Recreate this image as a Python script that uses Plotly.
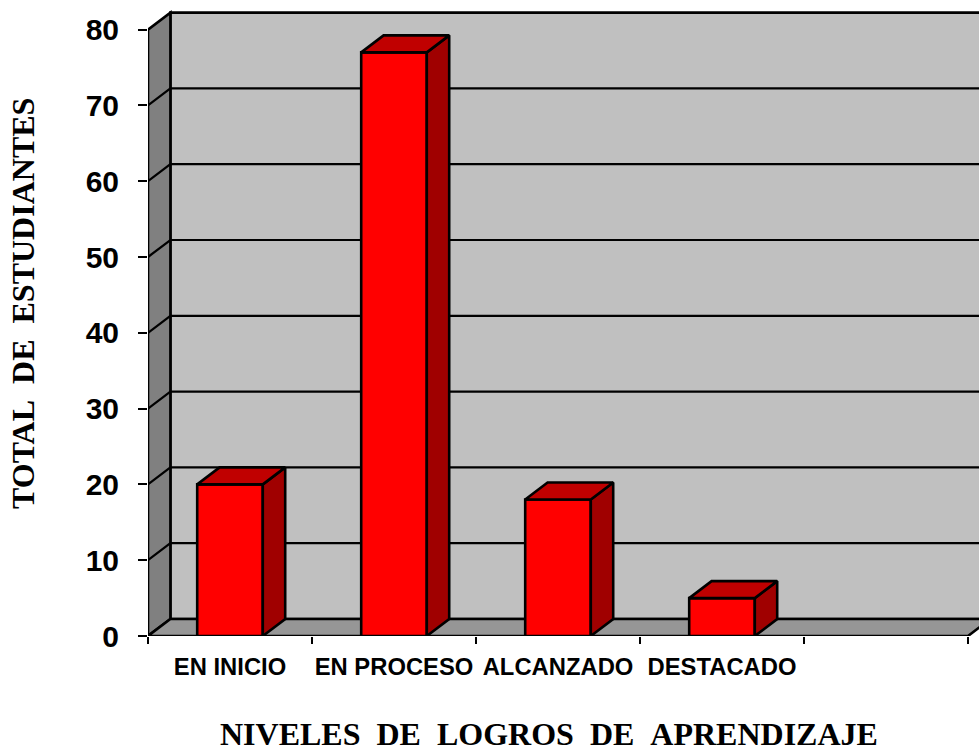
import plotly.graph_objects as go

categories = ["EN INICIO", "EN PROCESO", "ALCANZADO", "DESTACADO", ""]
values = [20, 77, 18, 5]
y_ticks = [0, 10, 20, 30, 40, 50, 60, 70, 80]
y_title = "TOTAL\u00a0\u00a0DE\u00a0\u00a0ESTUDIANTES"
x_title = "NIVELES\u00a0\u00a0DE\u00a0\u00a0LOGROS\u00a0\u00a0DE\u00a0\u00a0APRENDIZAJE"

# pixel frame of the chart
W, H = 979, 751
L, B, T = 148.0, 115, 8
SLOT_PX = 164.0
UNIT_PX = 7.58
n_slots = len(categories)
x_max = (W - L) / SLOT_PX
y_max = (H - B - T) / UNIT_PX
DX = 22.4 / SLOT_PX
DY = 17.0 / UNIT_PX
BAR_W = 0.4
LW = 2.6

fig = go.Figure()


def poly(xs, ys, fill, width=LW):
    path = "M" + " L".join(f"{x},{y}" for x, y in zip(xs, ys)) + " Z"
    fig.add_shape(type="path", path=path, xref="x", yref="y", layer="below",
                  fillcolor=fill, line=dict(color="black", width=width))


top = y_ticks[-1]
poly([DX, n_slots + DX + 1, n_slots + DX + 1, DX], [DY, DY, top + DY, top + DY], "#c0c0c0")
poly([0, DX, DX, 0], [0, DY, top + DY, top], "#808080")
poly([0, n_slots, n_slots + DX, DX], [0, 0, DY, DY], "#969696")
for v in y_ticks[1:-1]:
    fig.add_shape(type="path", path=f"M0,{v} L{DX},{v + DY} L{n_slots + DX + 1},{v + DY}",
                  xref="x", yref="y", layer="below", line=dict(color="black", width=2.2))

centers = [i + 0.5 for i in range(len(values))]
fig.add_trace(go.Bar(x=centers, y=values, width=BAR_W,
                     marker=dict(color="#ff0000", line=dict(color="black", width=LW))))

for c, v in zip(centers, values):
    l, r = c - BAR_W / 2, c + BAR_W / 2
    fig.add_trace(go.Scatter(x=[r, r + DX, r + DX, r, r], y=[0, DY, v + DY, v, 0],
                             mode="lines", fill="toself", fillcolor="#a00000",
                             line=dict(color="black", width=LW)))
    fig.add_trace(go.Scatter(x=[l, r, r + DX, l + DX, l], y=[v, v, v + DY, v + DY, v],
                             mode="lines", fill="toself", fillcolor="#c00000",
                             line=dict(color="black", width=LW)))

fig.update_layout(
    width=W, height=H, autosize=False, showlegend=False, hovermode=False,
    paper_bgcolor="white", plot_bgcolor="white",
    margin=dict(l=L, r=0, t=T, b=B, pad=0),
    font=dict(family="Liberation Sans", color="black"),
    xaxis=dict(range=[0, x_max], showgrid=False, zeroline=False, showline=False,
               tickmode="array", tickvals=[i + 0.5 for i in range(n_slots)], ticktext=categories,
               ticks="", ticklen=0, tickangle=0, ticklabelstandoff=14,
               tickfont=dict(family="Liberation Sans", size=23.8, color="black", weight="bold"),
               minor=dict(tickmode="array", tickvals=list(range(n_slots + 1)), ticks="outside",
                          ticklen=7, tickwidth=1.5, tickcolor="black", showgrid=False)),
    yaxis=dict(range=[0, y_max], showgrid=False, zeroline=False, showline=False,
               tickmode="array", tickvals=y_ticks, ticktext=[str(v) for v in y_ticks],
               ticks="outside", ticklen=9, tickwidth=2, tickcolor="black", ticklabelstandoff=13,
               tickfont=dict(family="Liberation Sans", size=30, color="black", weight="bold")),
    annotations=[
        dict(text=x_title, xref="paper", yref="paper", showarrow=False,
             x=(549 - L) / (W - L), y=-(734 - (H - B)) / (H - B - T), xanchor="center", yanchor="middle",
             font=dict(family="Liberation Serif", size=32, color="black", weight="bold")),
        dict(text=y_title, xref="paper", yref="paper", showarrow=False, textangle=-90,
             x=-(L - 23) / (W - L), y=((H - B) - 304) / (H - B - T), xanchor="center", yanchor="middle",
             font=dict(family="Liberation Serif", size=32, color="black", weight="bold")),
    ],
)

fig.write_html("out.html", config={"displayModeBar": False},
               post_script="document.body.style.margin='0';document.body.style.overflow='hidden';")
